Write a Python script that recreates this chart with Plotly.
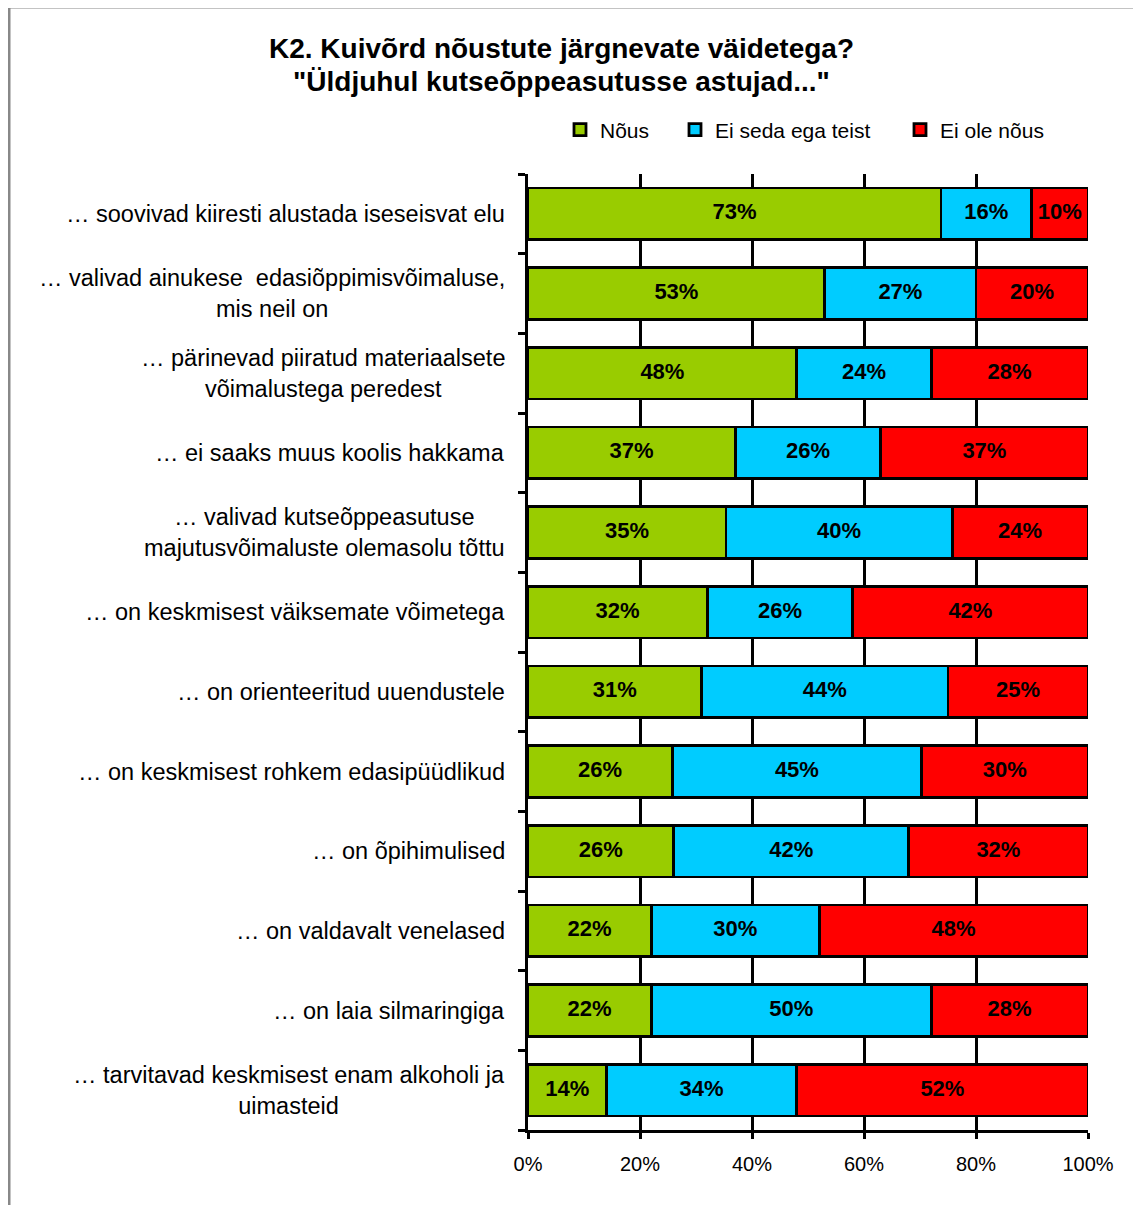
import plotly.graph_objects as go

categories = [
    "… soovivad kiiresti alustada iseseisvat elu",
    "… valivad ainukese  edasiõppimisvõimaluse,<br>mis neil on",
    "… pärinevad piiratud materiaalsete<br>võimalustega peredest",
    "… ei saaks muus koolis hakkama",
    "… valivad kutseõppeasutuse<br>majutusvõimaluste olemasolu tõttu",
    "… on keskmisest väiksemate võimetega",
    "… on orienteeritud uuendustele",
    "… on keskmisest rohkem edasipüüdlikud",
    "… on õpihimulised",
    "… on valdavalt venelased",
    "… on laia silmaringiga",
    "… tarvitavad keskmisest enam alkoholi ja<br>uimasteid",
]
nous = [73, 53, 48, 37, 35, 32, 31, 26, 26, 22, 22, 14]
ei_seda = [16, 27, 24, 26, 40, 26, 44, 45, 42, 30, 50, 34]
ei_ole = [10, 20, 28, 37, 24, 42, 25, 30, 32, 48, 28, 52]
series_names = ["Nõus", "Ei seda ega teist", "Ei ole nõus"]
colors = ["#99CC00", "#00CCFF", "#FF0000"]
x_ticks = [0, 20, 40, 60, 80, 100]
x_tick_labels = ["0%", "20%", "40%", "60%", "80%", "100%"]
title_lines = ["K2. Kuivõrd nõustute järgnevate väidetega?",
               "\"Üldjuhul kutseõppeasutusse astujad...\""]

# page body has an 8px margin; work in screenshot pixels and convert
OFF = 8
W, H = 1141 - OFF, 1205 - OFF
L, R, T, B = 528 - OFF, 1088 - OFF, 174 - OFF, 1130 - OFF


def px2x(px):
    return (px - OFF - L) / (R - L)


def py2y(py):
    return (B - (py - OFF)) / (B - T)


legend_keys = ["legend", "legend2", "legend3"]
legend_text_starts = [597, 712, 937]

series = [nous, ei_seda, ei_ole]
ids = list(range(len(categories)))
fig = go.Figure()
for name, vals, col, lk in zip(series_names, series, colors, legend_keys):
    fig.add_trace(go.Bar(
        y=ids, x=vals, name=name, orientation="h",
        marker=dict(color=col, line=dict(color="black", width=2.8)),
        textposition="none",
        width=0.65, hoverinfo="skip", legend=lk,
    ))

# value labels centred in each (100%-normalised) segment
totals = [sum(r) for r in zip(*series)]
cum = [0.0] * len(categories)
for vals in series:
    mids = []
    for i, v in enumerate(vals):
        mids.append((cum[i] + v / 2) / totals[i] * 100)
        cum[i] += v
    fig.add_trace(go.Scatter(
        x=mids, y=ids, mode="text", text=[f"{v}%" for v in vals],
        textposition="middle center",
        textfont=dict(family="Liberation Sans, Arial", size=22, color="black", weight="bold"),
        showlegend=False, hoverinfo="skip", cliponaxis=False,
    ))

annotations = []
for i, c in enumerate(categories):
    annotations.append(dict(
        x=-0.037, xref="paper", y=i, yref="y", text=c, showarrow=False,
        xanchor="right", yanchor="middle", align="center",
        font=dict(family="Liberation Sans, Arial", size=23.5, color="black"),
    ))
for line, ty in zip(title_lines, [48, 82]):
    annotations.append(dict(
        x=px2x(561), xref="paper", y=py2y(ty), yref="paper", text=line,
        showarrow=False, xanchor="center", yanchor="middle",
        font=dict(family="Liberation Sans, Arial", size=28, color="black", weight="bold"),
    ))

legend_layouts = {}
for lk, ts in zip(legend_keys, legend_text_starts):
    legend_layouts[lk] = dict(
        orientation="h", x=px2x(ts - 37), xanchor="left", y=py2y(130), yanchor="middle",
        font=dict(family="Liberation Sans, Arial", size=21, color="black"),
        itemwidth=30, bgcolor="rgba(0,0,0,0)",
    )

fig.update_layout(
    width=W, height=H,
    margin=dict(l=L, r=W - R, t=T, b=H - B, autoexpand=False),
    barmode="stack", barnorm="percent",
    plot_bgcolor="white", paper_bgcolor="white",
    xaxis=dict(
        range=[0, 100], tickvals=x_ticks, ticktext=x_tick_labels,
        showgrid=True, gridcolor="black", gridwidth=2.5,
        showline=True, linecolor="black", linewidth=2.5,
        ticks="outside", ticklen=6, tickwidth=2.5, tickcolor="black",
        ticklabelstandoff=8,
        tickfont=dict(family="Liberation Sans, Arial", size=20, color="black"),
        zeroline=False, fixedrange=True,
    ),
    yaxis=dict(
        type="linear", range=[len(categories) - 0.5, -0.5],
        tickvals=[i - 0.5 for i in range(len(categories) + 1)],
        showticklabels=False, showgrid=False,
        showline=True, linecolor="black", linewidth=2.5,
        ticks="outside", ticklen=7, tickwidth=2.5, tickcolor="black",
        zeroline=False, fixedrange=True,
    ),
    annotations=annotations,
    shapes=[
        dict(type="line", xref="paper", yref="paper",
             x0=px2x(9), x1=px2x(1160), y0=py2y(7), y1=py2y(7),
             line=dict(color="#888888", width=3), layer="below"),
        dict(type="line", xref="paper", yref="paper",
             x0=px2x(9), x1=px2x(9), y0=py2y(7), y1=py2y(1220),
             line=dict(color="#888888", width=3), layer="below"),
    ],
    showlegend=True,
    **legend_layouts,
)

fig.write_html("out.html")
